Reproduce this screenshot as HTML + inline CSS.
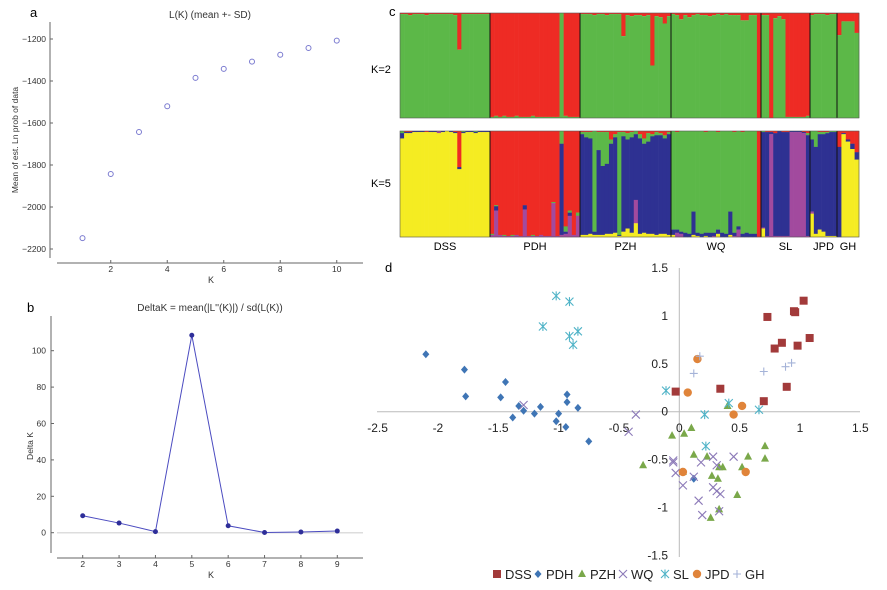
<!DOCTYPE html>
<html><head><meta charset="utf-8"><style>
body{margin:0;background:#fff}
svg{display:block;font-family:"Liberation Sans",sans-serif}
</style></head><body>
<svg id="fig" width="887" height="590" viewBox="0 0 887 590" xmlns="http://www.w3.org/2000/svg">
<g id="pa"></g>
<g id="pb"></g>
<g id="pc"></g>
<g id="pd"></g>
</svg>
<script>
// ---------- Panel a data ----------
const lkK = [1,2,3,4,5,6,7,8,9,10];
const lkMean = [-2148,-1843,-1643,-1520,-1385,-1342,-1308,-1275,-1243,-1208];
const lkYTicks = [-1200,-1400,-1600,-1800,-2000,-2200];
const lkXTicks = [2,4,6,8,10];
// ---------- Panel b data ----------
const dkK = [2,3,4,5,6,7,8,9];
const dkVal = [9.3,5.3,0.6,108.5,3.8,0.1,0.4,0.9];
const dkYTicks = [0,20,40,60,80,100];
// ---------- Panel c data ----------
const groups = ["DSS","PDH","PZH","WQ","SL","JPD","GH"];
const groupCounts = [22,22,22,22,12,7,5];
// K=2 red fraction per individual
const k2Red = [
0.01,0.01,0.02,0.01,0.01,0.01,0.02,0.01,0.01,0.01,0.01,0.01,0.01,0.02,0.35,0.01,0.01,0.01,0.01,0.01,0.01,0.01,
0.99,0.98,0.99,0.98,0.99,0.99,0.98,0.99,0.99,0.99,0.98,0.99,0.99,0.99,0.99,0.99,0.99,0.0,0.98,0.99,0.99,0.99,
0.01,0.01,0.01,0.02,0.01,0.01,0.02,0.01,0.01,0.01,0.22,0.02,0.03,0.02,0.02,0.03,0.02,0.5,0.03,0.04,0.1,0.03,
0.01,0.02,0.06,0.02,0.04,0.02,0.01,0.02,0.02,0.03,0.02,0.01,0.02,0.01,0.02,0.02,0.02,0.07,0.07,0.02,0.02,1.0,
0.02,0.02,1.0,0.05,0.03,0.06,0.99,0.99,0.99,0.99,0.99,0.98,
0.02,0.01,0.01,0.01,0.02,0.01,0.01,
0.21,0.08,0.08,0.08,0.19];
// K=5 fractions per individual: [red, green, blue, purple, yellow] (top to bottom)
const k5 = [
[0,0.02,0.05,0,0.93],[0.01,0,0.01,0,0.98],[0.01,0,0.01,0,0.98],[0,0,0.01,0,0.99],[0,0,0.01,0,0.99],[0,0,0.01,0,0.99],[0.01,0,0,0,0.99],[0,0,0.01,0,0.99],[0,0,0.01,0,0.99],[0,0,0,0.02,0.98],[0,0,0.01,0,0.99],[0,0,0,0,1],[0,0,0.01,0,0.99],[0.01,0,0.01,0,0.98],[0.34,0,0.02,0,0.64],[0,0.01,0.01,0,0.98],[0,0,0.01,0,0.99],[0,0,0.01,0,0.99],[0,0.01,0.01,0,0.98],[0,0,0.01,0,0.99],[0,0,0.01,0,0.99],[0,0,0.01,0,0.99],
[0.97,0.01,0,0.02,0],[0.7,0.01,0.04,0.25,0],[0.98,0,0,0.02,0],[0.98,0.01,0,0.01,0],[0.99,0,0,0.01,0],[0.98,0.01,0,0.01,0],[0.98,0,0,0.02,0],[0.99,0,0,0.01,0],[0.7,0,0.04,0.26,0],[0.99,0,0,0.01,0],[0.98,0.01,0,0.01,0],[0.99,0,0,0.01,0],[0.98,0,0,0.02,0],[0.99,0,0,0.01,0],[0.99,0,0,0.01,0],[0.67,0.01,0,0.32,0],[0.99,0,0,0.01,0],[0,0.12,0.86,0.02,0],[0.9,0.05,0.02,0.03,0],[0.75,0.02,0.03,0.2,0],[0.98,0,0,0.02,0],[0.77,0.03,0,0.2,0],
[0.01,0.02,0.95,0,0.02],[0.01,0.05,0.92,0,0.02],[0.01,0.06,0.9,0,0.03],[0,0.95,0.03,0,0.02],[0.01,0.17,0.8,0,0.02],[0.01,0.32,0.65,0,0.02],[0.01,0.3,0.66,0,0.03],[0.08,0.04,0.85,0,0.03],[0.03,0.03,0.9,0,0.04],[0.01,0.97,0.01,0,0.01],[0.01,0.04,0.9,0,0.05],[0.02,0.06,0.84,0,0.08],[0.01,0.05,0.9,0,0.04],[0,0.03,0.62,0.22,0.13],[0.03,0.04,0.9,0,0.03],[0.07,0.05,0.84,0,0.04],[0.02,0.08,0.87,0,0.03],[0.03,0.02,0.92,0,0.03],[0.01,0.03,0.94,0,0.02],[0.02,0.02,0.93,0,0.03],[0.04,0.03,0.9,0,0.03],[0.01,0.02,0.95,0,0.02],
[0,0.93,0.05,0,0.02],[0.01,0.92,0.03,0.04,0],[0,0.95,0.02,0.03,0],[0,0.96,0.04,0,0],[0,0.97,0.03,0,0],[0,0.76,0.22,0,0.02],[0,0.96,0.03,0,0.01],[0,0.97,0.03,0,0],[0.01,0.95,0.03,0,0.01],[0,0.96,0.04,0,0],[0,0.96,0.03,0.01,0],[0.01,0.92,0.04,0,0.03],[0,0.96,0.04,0,0],[0,0.97,0.03,0,0],[0,0.76,0.22,0,0.02],[0.01,0.95,0.03,0.01,0],[0,0.9,0.03,0.07,0],[0.01,0.96,0.03,0,0],[0,0.96,0.04,0,0],[0,0.97,0.03,0,0],[0,0.97,0.03,0,0],[1,0,0,0,0],
[0,0.01,0.9,0.01,0.08],[0.01,0,0.98,0.01,0],[0.01,0,0.02,0.97,0],[0.02,0,0.97,0.01,0],[0,0,0.99,0.01,0],[0.01,0,0.98,0.01,0],[0.01,0,0.98,0.01,0],[0,0,0.01,0.99,0],[0,0,0.01,0.99,0],[0,0,0.01,0.99,0],[0.01,0,0.01,0.98,0],[0.02,0.02,0.95,0.01,0],
[0,0.08,0.68,0.02,0.22],[0,0.15,0.82,0,0.03],[0.01,0.02,0.9,0,0.07],[0.01,0.02,0.92,0,0.05],[0.01,0.01,0.97,0,0.01],[0,0.01,0.98,0,0.01],[0,0.01,0.98,0,0.01],
[0.15,0,0.85,0,0],[0.02,0,0.01,0,0.97],[0.08,0,0.02,0,0.9],[0.12,0,0.05,0,0.83],[0.2,0,0.07,0,0.73]];
// ---------- Panel d data ----------
const pcaXTicks = [-2.5,-2,-1.5,-1,-0.5,0,0.5,1,1.5];
const pcaYTicks = [1.5,1,0.5,0,-0.5,-1,-1.5];
const dssX=[-0.03,0.34,0.73,0.79,0.85,0.95,0.96,0.98,1.03,1.08,0.89,0.70];
const dssY=[0.21,0.24,0.99,0.66,0.72,1.05,1.04,0.69,1.16,0.77,0.26,0.11];
const pdhX=[-2.10,-1.78,-1.77,-1.44,-1.48,-1.33,-1.29,-1.38,-1.15,-1.20,-1.0,-1.02,-0.93,-0.93,-0.94,-0.84,-0.75,0.12];
const pdhY=[0.60,0.44,0.16,0.31,0.15,0.06,0.01,-0.06,0.05,-0.02,-0.02,-0.10,0.10,0.18,-0.16,0.04,-0.31,-0.70];
const pzhX=[-0.30,-0.06,0.04,0.10,0.12,0.23,0.27,0.32,0.33,0.36,0.40,0.48,0.33,0.26,0.52,0.57,0.71,0.71,0.03];
const pzhY=[-0.56,-0.25,-0.23,-0.17,-0.45,-0.47,-0.67,-0.70,-0.58,-0.58,0.06,-0.87,-1.02,-1.11,-0.58,-0.47,-0.36,-0.49,-0.63];
const wqX=[-1.29,-0.36,-0.42,-0.05,-0.05,-0.03,0.03,0.12,0.18,0.16,0.19,0.28,0.31,0.28,0.31,0.34,0.45,0.33];
const wqY=[0.07,-0.03,-0.21,-0.51,-0.53,-0.64,-0.77,-0.68,-0.53,-0.93,-1.08,-0.47,-0.56,-0.79,-0.83,-0.86,-0.47,-1.04];
const slX=[-1.02,-0.91,-1.13,-0.91,-0.84,-0.88,-0.11,0.21,0.22,0.41,0.66];
const slY=[1.21,1.15,0.89,0.79,0.84,0.70,0.22,-0.03,-0.36,0.09,0.02];
const jpdX=[0.15,0.07,0.03,0.45,0.52,0.55];
const jpdY=[0.55,0.20,-0.63,-0.03,0.06,-0.63];
const ghX=[0.17,0.12,0.70,0.88,0.93];
const ghY=[0.58,0.40,0.42,0.47,0.51];

const NS="http://www.w3.org/2000/svg";
function mk(parent,tag,attrs,text){const e=document.createElementNS(NS,tag);for(const k in attrs)e.setAttribute(k,attrs[k]);if(text!==undefined)e.textContent=text;parent.appendChild(e);return e;}

// ---------- Panel a ----------
(function(){
const g=document.getElementById('pa');
const xA=k=>82.5+(k-1)*28.25, yA=v=>39+(-1200-v)*0.21;
let t=mk(g,'text',{x:30,y:17,'font-size':13},'a');


t=mk(g,'text',{x:210,y:18,'font-size':10,'text-anchor':'middle',fill:'#333'},'L(K) (mean +- SD)');


mk(g,'line',{x1:50,y1:22,x2:50,y2:258,stroke:'#666','stroke-width':1});
mk(g,'line',{x1:57,y1:263,x2:363,y2:263,stroke:'#666','stroke-width':1});
lkYTicks.forEach(v=>{const y=yA(v);mk(g,'line',{x1:50,y1:y,x2:53,y2:y,stroke:'#666'});
 const l=mk(g,'text',{x:46,y:y+3,'font-size':8.5,'text-anchor':'end',fill:'#333'},'\u2212'+Math.abs(v));
 
 });
lkXTicks.forEach(v=>{const x=xA(v);mk(g,'line',{x1:x,y1:263,x2:x,y2:260,stroke:'#666'});
 const l=mk(g,'text',{x:x,y:272,'font-size':8.5,'text-anchor':'middle',fill:'#333'},v);
 
 });
t=mk(g,'text',{x:211,y:283,'font-size':9,'text-anchor':'middle',fill:'#333'},'K');


t=mk(g,'text',{x:0,y:0,'font-size':8.5,'text-anchor':'middle',fill:'#333',transform:'translate(18,140) rotate(-90)'},'Mean of est. Ln prob of data');


lkK.forEach((k,i)=>{const c=mk(g,'circle',{cx:xA(k),cy:yA(lkMean[i]),r:2.5,fill:'none',stroke:'#7b7bd0','stroke-width':1});
 
 });
})();

// ---------- Panel b ----------
(function(){
const g=document.getElementById('pb');
const xB=k=>82.7+(k-2)*36.37, yB=v=>532.7-v*1.82;
let t=mk(g,'text',{x:27,y:312,'font-size':13},'b');


t=mk(g,'text',{x:210,y:311,'font-size':10,'text-anchor':'middle',fill:'#333'},"DeltaK = mean(|L''(K)|) / sd(L(K))");


mk(g,'line',{x1:51,y1:316,x2:51,y2:553,stroke:'#666'});
mk(g,'line',{x1:57,y1:558,x2:363,y2:558,stroke:'#666'});
mk(g,'line',{x1:57,y1:yB(0),x2:363,y2:yB(0),stroke:'#ddd','stroke-width':1.5});
dkYTicks.forEach(v=>{const y=yB(v);mk(g,'line',{x1:51,y1:y,x2:54,y2:y,stroke:'#666'});
 const l=mk(g,'text',{x:46,y:y+3,'font-size':8.5,'text-anchor':'end',fill:'#333'},v);
 
 });
dkK.forEach(k=>{const x=xB(k);mk(g,'line',{x1:x,y1:558,x2:x,y2:555,stroke:'#666'});
 const l=mk(g,'text',{x:x,y:567,'font-size':8.5,'text-anchor':'middle',fill:'#333'},k);
 
 });
t=mk(g,'text',{x:211,y:578,'font-size':9,'text-anchor':'middle',fill:'#333'},'K');


t=mk(g,'text',{x:0,y:0,'font-size':8.5,'text-anchor':'middle',fill:'#333',transform:'translate(33,446) rotate(-90)'},'Delta K');


const pts=dkK.map((k,i)=>xB(k)+','+yB(dkVal[i])).join(' ');
const pl=mk(g,'polyline',{points:pts,fill:'none',stroke:'#4b4bc0','stroke-width':1});


dkK.forEach((k,i)=>{const c=mk(g,'circle',{cx:xB(k),cy:yB(dkVal[i]),r:2.5,fill:'#2e2e99'});
 
 });
})();

// ---------- Panel c ----------
(function(){
const g=document.getElementById('pc');
const cols=['#ee2b24','#5cb848','#2e3192','#a24a9e','#f5ec22'];
const bounds=[400,490,580,671,761,810,837,859];
const top2=13,h2=105,top5=131,h5=106;
let t=mk(g,'text',{x:389,y:16,'font-size':13},'c');


t=mk(g,'text',{x:371,y:73,'font-size':11},'K=2');


t=mk(g,'text',{x:371,y:187,'font-size':11},'K=5');


let idx=0;
groups.forEach((gr,gi)=>{
 const x0=bounds[gi],w=(bounds[gi+1]-bounds[gi])/groupCounts[gi];
 for(let j=0;j<groupCounts[gi];j++,idx++){
  const x=x0+j*w, r=k2Red[idx];
  let b=mk(g,'rect',{x:x,y:top2,width:w+0.3,height:h2*r,fill:cols[0]});
  
  
  b=mk(g,'rect',{x:x,y:top2+h2*r,width:w+0.3,height:h2*(1-r),fill:cols[1]});
  
  
  let y=top5;const f=k5[idx];const s=f.reduce((a,c)=>a+c,0);
  f.forEach((v,ci)=>{if(v<=0)return;const hh=h5*v/s;
   const r5=mk(g,'rect',{x:x,y:y,width:w+0.3,height:hh+0.2,fill:cols[ci]});
   
   
   y+=hh;});
 }
 const lb=mk(g,'text',{x:(bounds[gi]+bounds[gi+1])/2,y:250,'font-size':11,'text-anchor':'middle'},gr);
 
 
});
bounds.forEach((b,i)=>{if(i===0||i===bounds.length-1)return;
 mk(g,'line',{x1:b,y1:top2,x2:b,y2:top2+h2,stroke:'#111','stroke-width':1});
 mk(g,'line',{x1:b,y1:top5,x2:b,y2:top5+h5,stroke:'#111','stroke-width':1});});
mk(g,'rect',{x:400,y:top2,width:459,height:h2,fill:'none',stroke:'#555','stroke-width':0.6});
mk(g,'rect',{x:400,y:top5,width:459,height:h5,fill:'none',stroke:'#555','stroke-width':0.6});
})();

// ---------- Panel d ----------
(function(){
const g=document.getElementById('pd');
const xD=v=>679.3+v*120.7, yD=v=>411.7-v*95.7;
let t=mk(g,'text',{x:385,y:272,'font-size':13},'d');


mk(g,'line',{x1:377,y1:yD(0),x2:860,y2:yD(0),stroke:'#bbb','stroke-width':1});
mk(g,'line',{x1:xD(0),y1:268,x2:xD(0),y2:557,stroke:'#bbb','stroke-width':1});
pcaXTicks.forEach(v=>{const l=mk(g,'text',{x:xD(v),y:432,'font-size':12,'text-anchor':'middle',fill:'#222'},v);
 
 });
pcaYTicks.forEach(v=>{const l=mk(g,'text',{x:668,y:yD(v)+4,'font-size':12,'text-anchor':'end',fill:'#222'},v);
 
 });
function marker(type,x,y,parent){
 if(type==='sq')return mk(parent,'rect',{x:x-4,y:y-4,width:8,height:8,fill:'#a23a3a'});
 if(type==='di')return mk(parent,'polygon',{points:`${x},${y-4} ${x+3.5},${y} ${x},${y+4} ${x-3.5},${y}`,fill:'#3f75b5'});
 if(type==='tr')return mk(parent,'polygon',{points:`${x},${y-4.5} ${x+4},${y+3} ${x-4},${y+3}`,fill:'#7aa84a'});
 if(type==='x')return mk(parent,'path',{d:`M${x-4},${y-4}L${x+4},${y+4}M${x-4},${y+4}L${x+4},${y-4}`,stroke:'#8c7ab8','stroke-width':1.1});
 if(type==='as')return mk(parent,'path',{d:`M${x-4},${y-4}L${x+4},${y+4}M${x-4},${y+4}L${x+4},${y-4}M${x},${y-4.5}L${x},${y+4.5}`,stroke:'#4fb3c7','stroke-width':1.1});
 if(type==='ci')return mk(parent,'circle',{cx:x,cy:y,r:4.2,fill:'#e0843a'});
 return mk(parent,'path',{d:`M${x-4},${y}L${x+4},${y}M${x},${y-4}L${x},${y+4}`,stroke:'#a5b3d8','stroke-width':1.1});
}
const series=[['DSS','sq',dssX,dssY],['PDH','di',pdhX,pdhY],['PZH','tr',pzhX,pzhY],['WQ','x',wqX,wqY],['SL','as',slX,slY],['JPD','ci',jpdX,jpdY],['GH','pl',ghX,ghY]];
series.forEach(s=>{s[2].forEach((xv,i)=>{const m=marker(s[1],xD(xv),yD(s[3][i]),g);
 
 });});
const legX=[497,538,582,623,665,697,737];
series.forEach((s,i)=>{
 const lg=mk(g,'g',{});
 
 
 marker(s[1],legX[i],574,lg);
 mk(lg,'text',{x:legX[i]+8,y:579,'font-size':13,fill:'#222'},s[0]);
});
})();
</script>
</body></html>
